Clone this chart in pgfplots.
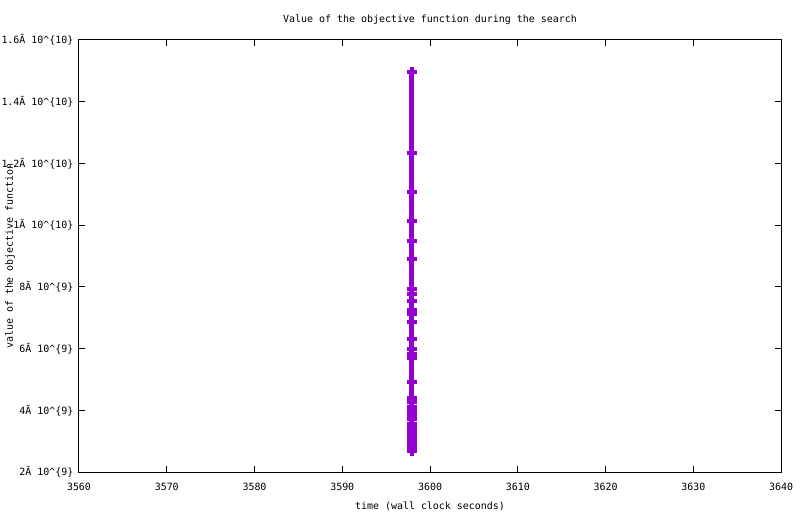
\documentclass[border=0pt]{standalone}
\usepackage{fontspec}
\usepackage{pgfplots}
\pgfplotsset{compat=1.18}
\setmonofont{DejaVu Sans Mono}
\definecolor{gpviolet}{HTML}{9400D3}
\newcommand{\gp}{\ttfamily\fontsize{10}{12}\selectfont}
\begin{document}
\begin{tikzpicture}[x=1bp,y=1bp]
\begin{axis}[
	scale only axis,
	width=702bp, height=432bp,
	xmin=3560, xmax=3640,
	ymin=2e9, ymax=1.6e10,
	xtick={3560,3570,...,3640},
	ytick={2e9,4e9,6e9,8e9,1e10,1.2e10,1.4e10,1.6e10},
	yticklabels={2Ã 10\textasciicircum\{9\},4Ã 10\textasciicircum\{9\},6Ã 10\textasciicircum\{9\},8Ã 10\textasciicircum\{9\},1Ã 10\textasciicircum\{10\},1.2Ã 10\textasciicircum\{10\},1.4Ã 10\textasciicircum\{10\},1.6Ã 10\textasciicircum\{10\}},
	scaled y ticks=false,
	/pgf/number format/1000 sep={},
	/pgf/number format/assume math mode=true,
	tick align=inside,
	major tick length=6bp,
	axis line style={line width=1bp},
	tick style={line width=1bp, black},
	ticklabel style={font=\gp},
	yticklabel style={xshift=-2bp},
	xticklabel style={yshift=-8bp},
	title={Value of the objective function during the search},
	title style={font=\gp, at={(axis description cs:0.5,1.033)}, anchor=center},
	xlabel={time (wall clock seconds)},
	xlabel style={font=\gp, at={(axis description cs:0.5,-0.08)}, anchor=center},
	ylabel={value of the objective function},
	ylabel style={font=\gp, at={(axis description cs:-0.098,0.5)}, anchor=center},
]
\addplot[color=gpviolet, line width=4.5bp, mark=+, mark size=5bp,
	mark options={line width=4bp}]
coordinates{
	(3597.9, 1.496e10)
	(3597.9, 1.235e10)
	(3597.9, 1.108e10)
	(3597.9, 1.014e10)
	(3597.9, 9.50e9)
	(3597.9, 8.90e9)
	(3597.9, 7.92e9)
	(3597.9, 7.76e9)
	(3597.9, 7.55e9)
	(3597.9, 7.24e9)
	(3597.9, 7.12e9)
	(3597.9, 6.85e9)
	(3597.9, 6.31e9)
	(3597.9, 5.99e9)
	(3597.9, 5.82e9)
	(3597.9, 5.69e9)
	(3597.9, 4.93e9)
	(3597.9, 4.40e9)
	(3597.9, 4.27e9)
	(3597.9, 4.11e9)
	(3597.9, 3.98e9)
	(3597.9, 3.85e9)
	(3597.9, 3.72e9)
	(3597.9, 3.56e9)
	(3597.9, 3.43e9)
	(3597.9, 3.30e9)
	(3597.9, 3.17e9)
	(3597.9, 3.04e9)
	(3597.9, 2.91e9)
	(3597.9, 2.78e9)
	(3597.9, 2.68e9)
};
\end{axis}
\pgfresetboundingbox
\path[use as bounding box] ([shift={(-79bp,-42bp)}]current axis.south west) rectangle ([shift={(19bp,40bp)}]current axis.north east);
\end{tikzpicture}
\end{document}
